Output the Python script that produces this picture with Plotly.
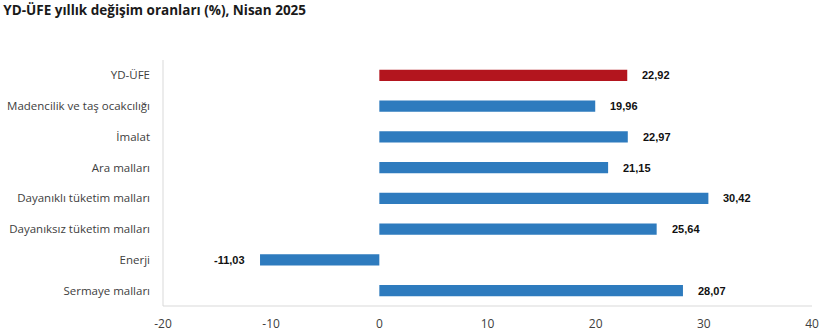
import plotly.graph_objects as go

categories = ["YD-ÜFE", "Madencilik ve taş ocakcılığı", "İmalat", "Ara malları",
              "Dayanıklı tüketim malları", "Dayanıksız tüketim malları", "Enerji", "Sermaye malları"]
values = [22.92, 19.96, 22.97, 21.15, 30.42, 25.64, -11.03, 28.07]
value_labels = ["22,92", "19,96", "22,97", "21,15", "30,42", "25,64", "-11,03", "28,07"]
x_ticks = [-20, -10, 0, 10, 20, 30, 40]

RED = "#B3151E"
BLUE = "#2E7BBE"
colors = [RED] + [BLUE] * (len(categories) - 1)

fig = go.Figure()
fig.add_trace(go.Bar(
    x=values, y=categories, orientation="h",
    marker=dict(color=colors, line=dict(width=0)),
    width=0.36, hoverinfo="skip",
))

for c, v, t in zip(categories, values, value_labels):
    fig.add_annotation(
        x=v, y=c, text=f"<b>{t}</b>", showarrow=False,
        xanchor="left" if v >= 0 else "right",
        xshift=13 if v >= 0 else -13,
        font=dict(family="Liberation Sans, Arial", size=11, color="#111111"),
    )

fig.update_layout(
    width=820, height=331,
    margin=dict(l=163, r=8, t=60, b=25),
    paper_bgcolor="white", plot_bgcolor="white",
    showlegend=False,
    title=dict(
        text="<b>YD-ÜFE yıllık değişim oranları (%), Nisan 2025</b>",
        x=0.004, xanchor="left", y=0.97, yanchor="middle",
        font=dict(family="Open Sans, Noto Sans", size=13.5, color="#1a1a1a"),
    ),
    xaxis=dict(
        range=[-20, 40], tickvals=x_ticks, ticktext=[str(v) for v in x_ticks],
        showgrid=False, zeroline=False, showline=False, ticks="",
        tickfont=dict(family="Open Sans, Noto Sans", size=12, color="#404040"),
        ticklabelstandoff=9, automargin=False,
    ),
    yaxis=dict(
        categoryorder="array", categoryarray=categories[::-1],
        showgrid=False, zeroline=False, showline=False, ticks="",
        tickfont=dict(family="Open Sans, Noto Sans", size=11.5, color="#404040"),
        ticklabelstandoff=12, automargin=False,
    ),
    shapes=[
        dict(type="line", xref="paper", yref="paper", x0=0, x1=0, y0=0, y1=1,
             line=dict(color="#D9D9D9", width=1)),
        dict(type="line", xref="paper", yref="paper", x0=0, x1=1, y0=0, y1=0,
             line=dict(color="#D9D9D9", width=1)),
    ],
)

fig.write_html("out.html")
